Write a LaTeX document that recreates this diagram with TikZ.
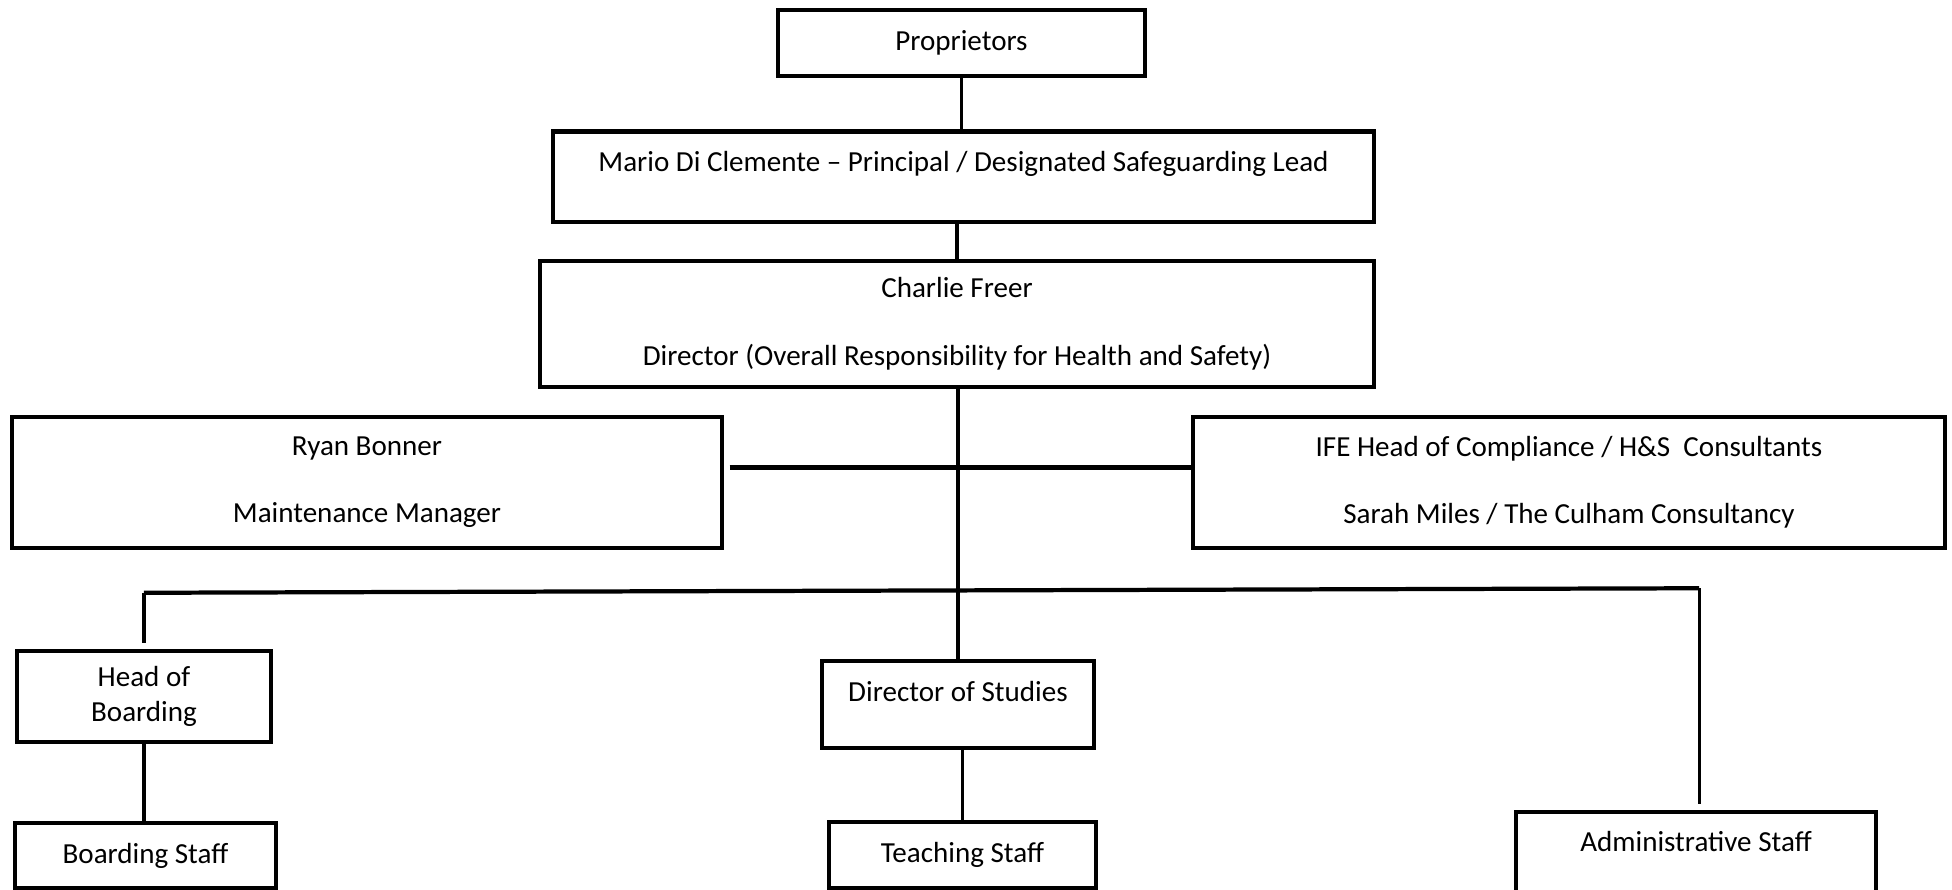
\documentclass[tikz,border=0pt]{standalone}
\usepackage{fontspec}
\setmainfont{Carlito}
\usepackage{tikz}
\usetikzlibrary{positioning}

\tikzset{
  box/.style={shape=rectangle,draw = black,line width=1.4pt,align=center,font=\fontsize{11pt}{13.4pt}\selectfont},
  link/.style={line width=1.2pt},
  bus/.style={line width=1.6pt}
}

\begin{document}
\begin{tikzpicture}
\path[use as bounding box,clip] (0,0) rectangle (25.962,11.824);

%top of the chart
\node [box,minimum width = 4.88cm,minimum height=0.88cm] at (12.788,11.252) (prop) {Proprietors};
\node [box,line width=1.8pt,minimum width = 10.92cm,minimum height=1.2cm] at (12.815,9.47) (mario) {Mario Di Clemente – Principal / Designated Safeguarding Lead\\[-5.6pt]\strut};
\node [box,minimum width = 11.09cm,minimum height=1.68cm] at (12.728,7.515) (charlie) {Charlie Freer\\[12.5pt]Director (Overall Responsibility for Health and Safety)};

%side boxes
\node [box,minimum width = 9.44cm,minimum height=1.74cm] at (4.881,5.406) (ryan) {Ryan Bonner\\[12pt]Maintenance Manager};
\node [box,minimum width = 10cm,minimum height=1.74cm] at (20.868,5.406) (ife) {IFE Head of Compliance / H\&S\ \ Consultants\\[12pt]Sarah Miles / The Culham Consultancy};

%heads
\node [box,minimum width = 3.38cm,minimum height=1.21cm] at (1.915,2.56) (hob) {Head of\\Boarding};
\node [box,minimum width = 3.62cm,minimum height=1.16cm] at (12.741,2.454) (dos) {Director of Studies\\[-7.4pt]\strut};

%staff
\node [box,minimum width = 3.47cm,minimum height=0.86cm] at (1.935,0.446) (bstaff) {Boarding Staff};
\node [box,minimum width = 3.55cm,minimum height=0.88cm] at (12.801,0.452) (tstaff) {Teaching Staff};
\node [box,minimum width = 4.79cm,minimum height=1.2cm] at (22.557,0.426) (admin) {Administrative Staff\\[-5.6pt]\strut};

%lines down the middle
\draw [link] (prop.south) -- (prop.south |- mario.north);
\draw [link] (charlie.north |- mario.south) -- (charlie.north);
\draw [link] (dos.north |- charlie.south) -- (dos.north);
\draw [bus] ([xshift=0.08cm,yshift=0.2cm]ryan.east) -- ([yshift=0.2cm]ryan.east -| ife.west);

%bus to the lower boxes
\coordinate (busl) at (1.915,3.94);
\coordinate (busr) at (22.6,4.0);
\draw [bus] (busl) -- (busr);
\draw [link] (busl) -- ([yshift=0.08cm]hob.north);
\draw [link] (busr) -- ([yshift=0.08cm]busr |- admin.north);
\draw [link] (hob.south) -- (hob.south |- bstaff.north);
\draw [link] (tstaff.north |- dos.south) -- (tstaff.north);

\end{tikzpicture}
\end{document}
